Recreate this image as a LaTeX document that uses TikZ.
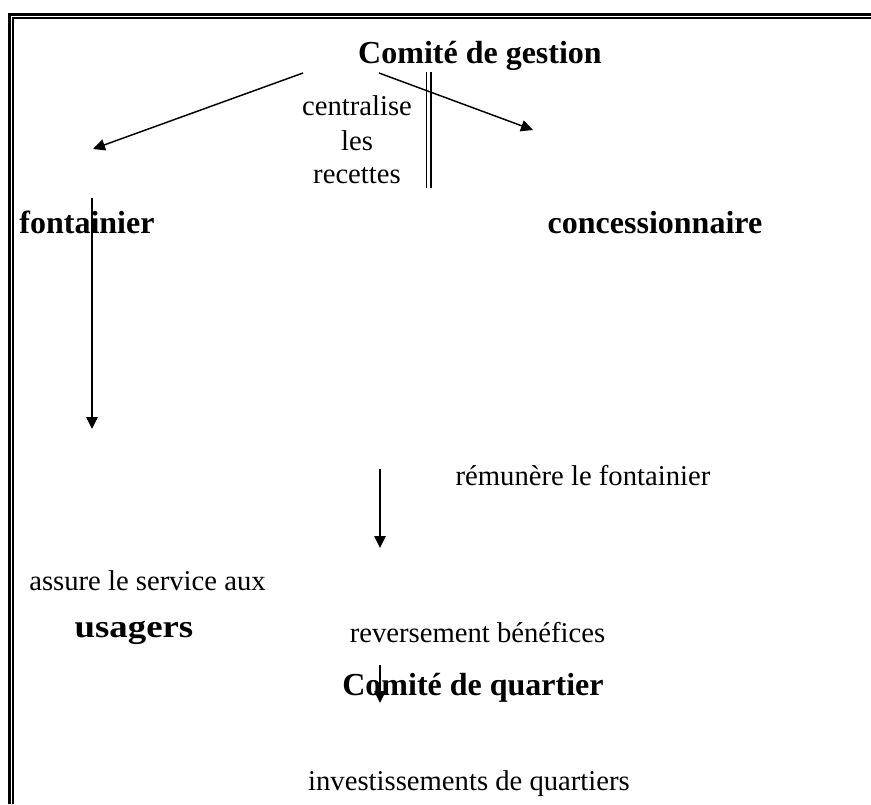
\documentclass[tikz,border=0pt]{standalone}
\usepackage{fontspec}
\setmainfont{Liberation Serif}
\usetikzlibrary{arrows.meta}
\tikzset{
  lbl/.style={inner sep=0pt, anchor=base, font=\fontsize{21.5}{26}\selectfont},
  hd/.style={inner sep=0pt, anchor=base, font=\fontsize{24}{29}\selectfont\bfseries},
  arr/.style={line width=1.1pt, -{Triangle[length=9pt,width=8.5pt]}},
  frameouter/.style={line width=2.3pt},
  frameinner/.style={line width=1.3pt},
}
\begin{document}
\begin{tikzpicture}[x=0.75pt,y=-0.75pt]
\useasboundingbox (0,0) rectangle (871,804);
% border
\draw[frameouter] (9.5,804) -- (9.5,14.5) -- (871,14.5);
\draw[frameinner] (13,804) -- (13,18) -- (871,18);
% texts
\node[hd] (cg) at (480,63) {Comité de gestion};
\node[lbl] (c1) at (357,115) {centralise};
\node[lbl] (c2) at (357,150) {les};
\node[lbl] (c3) at (357,183) {recettes};
\node[hd] (fon) at (87,233) {fontainier};
\node[hd] (con) at (655,233) {concessionnaire};
\node[lbl] (rem) at (583,485) {rémunère le fontainier};
\node[lbl] (ass) at (147.5,590) {assure le service aux};
\node[hd] (usa) at (134,637) {\scalebox{1.15}[1]{usagers}};
\node[lbl] (rev) at (477.5,642) {reversement bénéfices};
\node[hd] (cq) at (473,695) {Comité de quartier};
\node[lbl] (inv) at (469,790) {investissements de quartiers};
% connector end points
\coordinate (aL0) at (303,73);
\coordinate (aL1) at (93,149);
\coordinate (aR0) at (379,73);
\coordinate (aR1) at (533,130);
\coordinate (dA) at (426.5,72);
\coordinate (dB) at (426.5,188);
\coordinate (dC) at (431,72);
\coordinate (dD) at (431,188);
\coordinate (f0) at (92,198);
\coordinate (f1) at (92,429);
\coordinate (m0) at (380,469);
\coordinate (m1) at (380,548);
\coordinate (q0) at (380,665);
\coordinate (q1) at (380,703);
% connectors
\draw[arr] (aL0) -- (aL1);
\draw[arr] (aR0) -- (aR1);
\draw[line width=1.2pt] (dA) -- (dB);
\draw[line width=1.2pt] (dC) -- (dD);
\draw[arr] (f0) -- (f1);
\draw[arr] (m0) -- (m1);
\draw[arr] (q0) -- (q1);
\end{tikzpicture}
\end{document}
